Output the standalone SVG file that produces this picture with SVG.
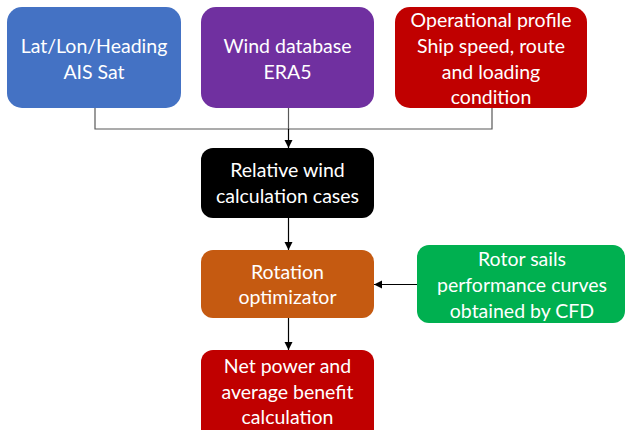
<svg xmlns="http://www.w3.org/2000/svg" width="625" height="430" viewBox="0 0 625 430">
<defs>
<style>
.box{stroke:none}
.t{font-family:Lato,"Liberation Sans",Arial,sans-serif;font-size:19.5px;fill:#fff;text-anchor:middle}
.c{fill:none;stroke:#000;stroke-width:1.2}
.g{fill:none;stroke:#595959;stroke-width:1.2}
</style>
<marker id="ah" markerWidth="9" markerHeight="9" refX="8" refY="4.5" orient="auto" markerUnits="userSpaceOnUse">
<path d="M0,0.5 L8,4.5 L0,8.5 z" fill="#000"/>
</marker>
</defs>
<rect width="625" height="430" fill="#fff"/>
<g id="connectors">
<polyline class="g" points="95,108 95,129 492,129 492,108"/>
<line class="g" x1="288.5" y1="108" x2="288.5" y2="129"/>
<line class="c" x1="288.5" y1="129" x2="288.5" y2="148" marker-end="url(#ah)"/>
<line class="c" x1="288.5" y1="218" x2="288.5" y2="250" marker-end="url(#ah)"/>
<line class="c" x1="417" y1="284.5" x2="374" y2="284.5" marker-end="url(#ah)"/>
<line class="c" x1="288.5" y1="318" x2="288.5" y2="350" marker-end="url(#ah)"/>
</g>
<g id="n1">
<rect class="box" x="7" y="7" width="174" height="101" rx="15" fill="#4472C4"/>
<text class="t" x="94" y="53">Lat/Lon/Heading</text>
<text class="t" x="94" y="79">AIS Sat</text>
</g>
<g id="n2">
<rect class="box" x="201" y="7" width="173" height="101" rx="15" fill="#7030A0"/>
<text class="t" x="287.5" y="53">Wind database</text>
<text class="t" x="287.5" y="79">ERA5</text>
</g>
<g id="n3">
<rect class="box" x="395" y="7" width="192" height="101" rx="15" fill="#C00000"/>
<text class="t" x="491" y="26.5">Operational profile</text>
<text class="t" x="491" y="53">Ship speed, route</text>
<text class="t" x="491" y="79">and loading</text>
<text class="t" x="491" y="104">condition</text>
</g>
<g id="n4">
<rect class="box" x="201" y="148" width="173" height="70" rx="12" fill="#000"/>
<text class="t" x="287.5" y="177">Relative wind</text>
<text class="t" x="287.5" y="203">calculation cases</text>
</g>
<g id="n5">
<rect class="box" x="201" y="250" width="173" height="68" rx="12" fill="#C55A11"/>
<text class="t" x="287.5" y="278.5">Rotation</text>
<text class="t" x="287.5" y="304">optimizator</text>
</g>
<g id="n6">
<rect class="box" x="417" y="245" width="208" height="78" rx="12" fill="#00B050"/>
<text class="t" x="522" y="266">Rotor sails</text>
<text class="t" x="522" y="292" textLength="170" lengthAdjust="spacing">performance curves</text>
<text class="t" x="522" y="317.5">obtained by CFD</text>
</g>
<g id="n7">
<rect class="box" x="201" y="350" width="173" height="95" rx="12" fill="#C00000"/>
<text class="t" x="287.5" y="372.5">Net power and</text>
<text class="t" x="287.5" y="398.5">average benefit</text>
<text class="t" x="287.5" y="424">calculation</text>
</g>
</svg>
